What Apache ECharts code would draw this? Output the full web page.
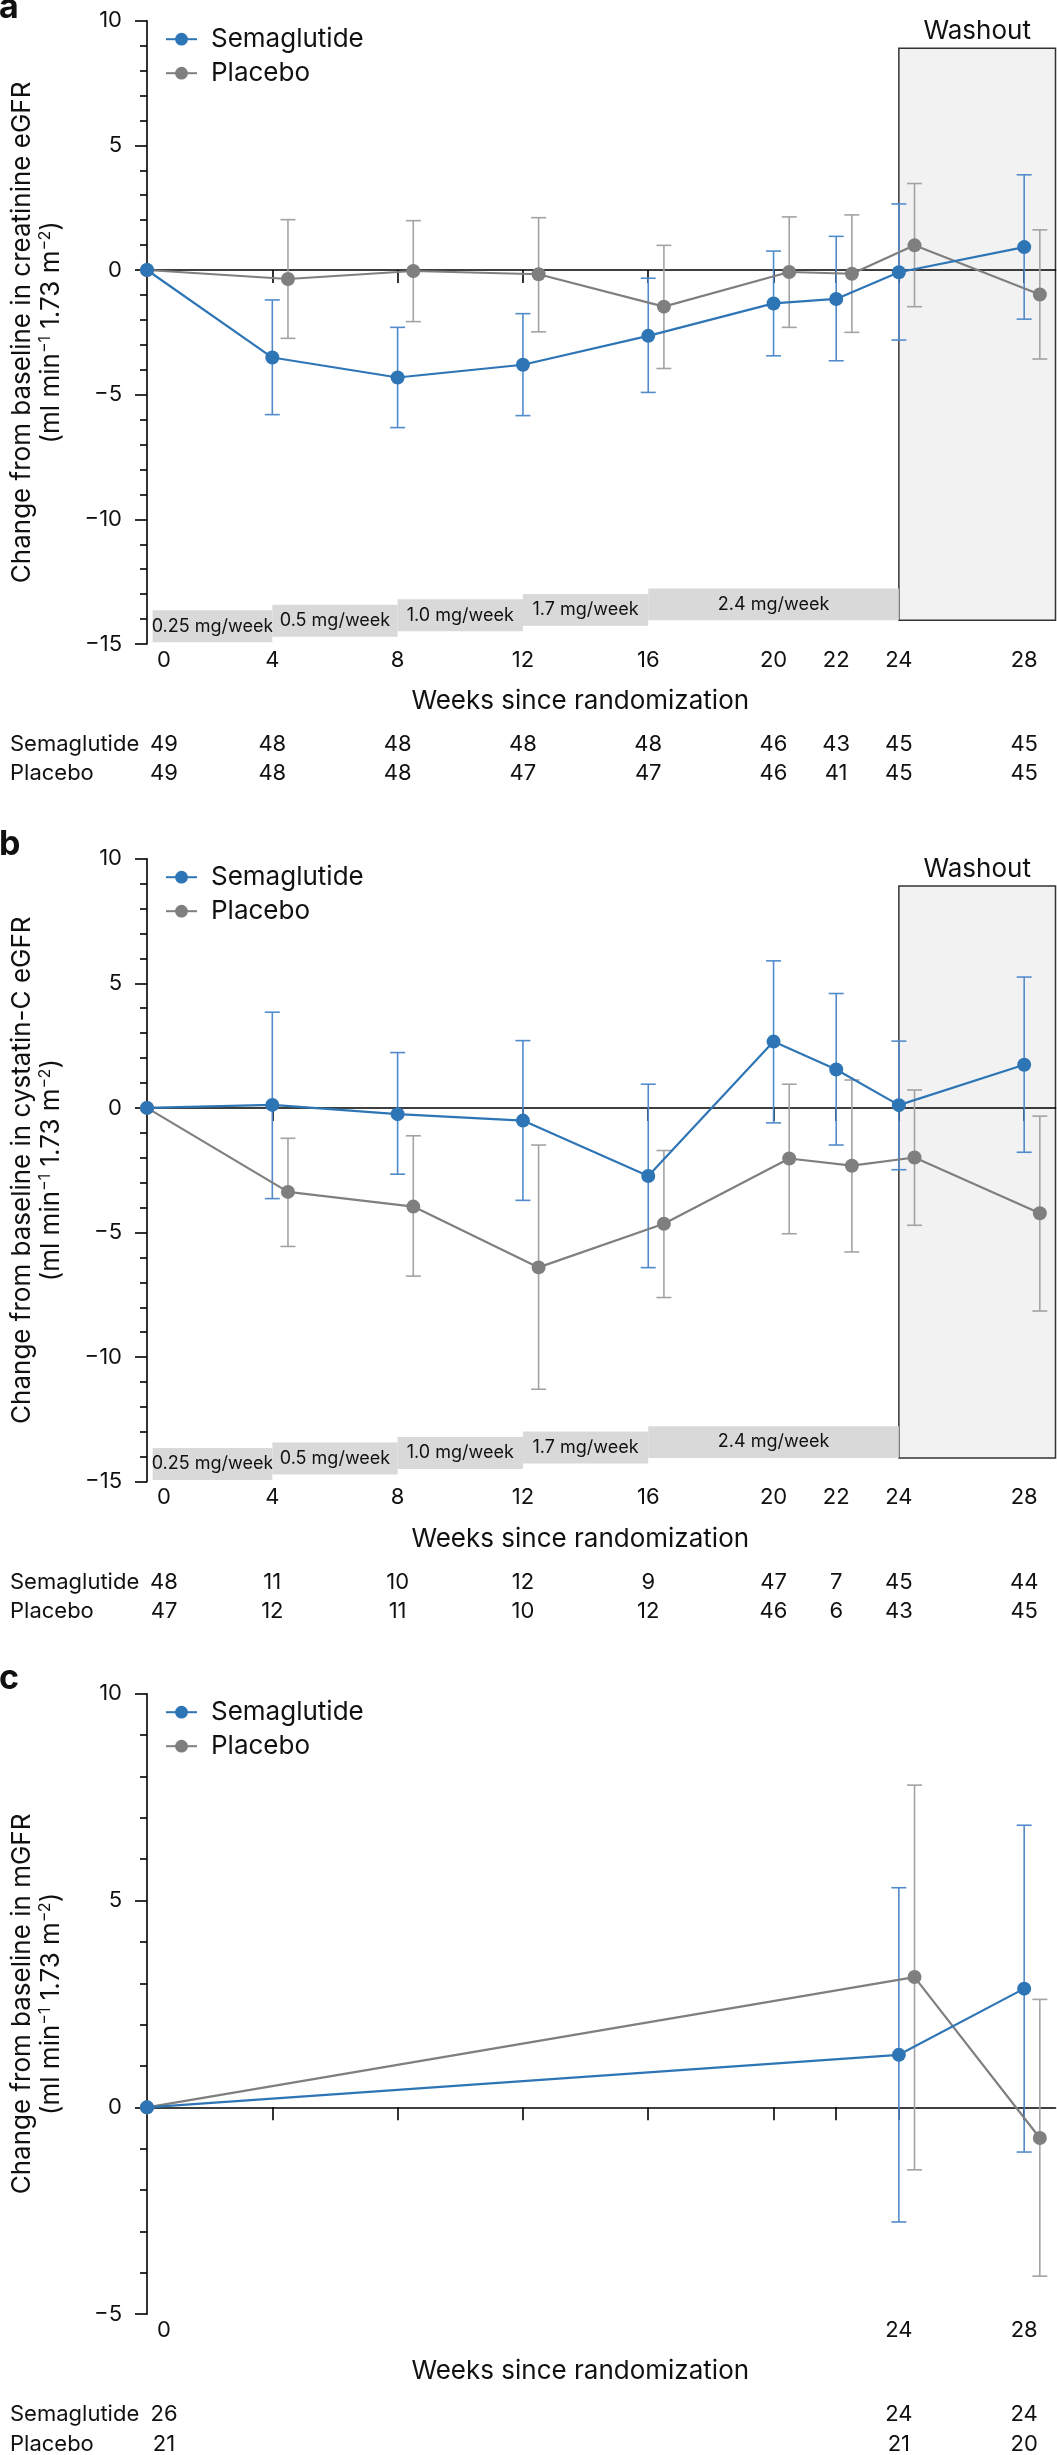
<!DOCTYPE html>
<html>
<head>
<meta charset="utf-8">
<script src="https://cdn.jsdelivr.net/npm/echarts@6/dist/echarts.min.js"></script>
<style>
  html, body { margin: 0; padding: 0; background: #fff; }
  #chart { width: 1057px; height: 2455px; }
</style>
</head>
<body>
<div id="chart"></div>
<script>
// ---------- data ----------
const weekTicks = [4, 8, 12, 16, 20, 22, 24, 28];
const weekLabelsAB = [0, 4, 8, 12, 16, 20, 22, 24, 28];
const weekLabelsC = [0, 24, 28];

const weeksSema = [0, 4, 8, 12, 16, 20, 22, 24, 28];
const weeksPlac = [0, 4.5, 8.5, 12.5, 16.5, 20.5, 22.5, 24.5, 28.5];
const weeksSemaC = [0, 24, 28];
const weeksPlacC = [0, 24.5, 28.5];

// Panel a: creatinine eGFR
const semaA   = [0, -3.51, -4.31, -3.80, -2.64, -1.34, -1.16, -0.09, 0.92];
const semaALo = [null, -5.80, -6.32, -5.84, -4.91, -3.44, -3.64, -2.81, -1.97];
const semaAHi = [null, -1.20, -2.30, -1.75, -0.33, 0.76, 1.35, 2.65, 3.82];
const placA   = [0, -0.36, -0.04, -0.17, -1.47, -0.08, -0.15, 0.99, -0.98];
const placALo = [null, -2.74, -2.07, -2.48, -3.95, -2.30, -2.50, -1.47, -3.57];
const placAHi = [null, 2.02, 1.98, 2.10, 0.99, 2.13, 2.21, 3.47, 1.61];

// Panel b: cystatin-C eGFR
const semaB   = [0, 0.12, -0.25, -0.51, -2.73, 2.66, 1.54, 0.11, 1.73];
const semaBLo = [null, -3.64, -2.66, -3.71, -6.41, -0.60, -1.49, -2.48, -1.78];
const semaBHi = [null, 3.84, 2.22, 2.70, 0.95, 5.90, 4.59, 2.68, 5.25];
const placB   = [0, -3.37, -3.96, -6.40, -4.65, -2.03, -2.32, -1.99, -4.23];
const placBLo = [null, -5.56, -6.75, -11.29, -7.61, -5.05, -5.78, -4.71, -8.15];
const placBHi = [null, -1.22, -1.12, -1.49, -1.71, 0.95, 1.12, 0.72, -0.33];

// Panel c: mGFR
const semaC   = [0, 1.27, 2.87];
const semaCLo = [null, -2.77, -1.08];
const semaCHi = [null, 5.31, 6.82];
const placC   = [0, 3.15, -0.74];
const placCLo = [null, -1.51, -4.08];
const placCHi = [null, 7.79, 2.61];

// Numbers of participants
const nSemaA = [49, 48, 48, 48, 48, 46, 43, 45, 45];
const nPlacA = [49, 48, 48, 47, 47, 46, 41, 45, 45];
const nSemaB = [48, 11, 10, 12, 9, 47, 7, 45, 44];
const nPlacB = [47, 12, 11, 10, 12, 46, 6, 43, 45];
const nSemaC = [26, 24, 24];
const nPlacC = [21, 21, 20];

// Dose escalation steps: [startWeek, endWeek, low, high]
const doseStart = [0.18, 4, 8, 12, 16];
const doseEnd   = [4, 8, 12, 16, 24];
const doseLow   = [-14.93, -14.71, -14.49, -14.27, -14.05];
const doseHigh  = [-13.65, -13.43, -13.21, -12.99, -12.77];
const doseLabels = ['0.25 mg/week', '0.5 mg/week', '1.0 mg/week', '1.7 mg/week', '2.4 mg/week'];

// Washout period box: weeks and y extent
const washoutWeeks = [24, 29];
const washoutY = [-14.05, 8.9];

const yTitles = [
  'Change from baseline in creatinine eGFR\n(ml min{s|−1} 1.73 m{s|−2})',
  'Change from baseline in cystatin-C eGFR\n(ml min{s|−1} 1.73 m{s|−2})',
  'Change from baseline in mGFR\n(ml min{s|−1} 1.73 m{s|−2})'
];
const panelLetters = ['a', 'b', 'c'];

// ---------- style ----------
const FONT = 'Inter, "Noto Sans", sans-serif';
const BLUE = '#2e75b6', BLUE_ERR = '#528bcb';
const GRAY = '#7f7f7f', GRAY_ERR = '#a3a3a3';
const INK = '#111111';
const AXIS = '#000000';

const grids = [
  { top: 20.7, height: 623.3 },
  { top: 858.7, height: 623.0 },
  { top: 1693.7, height: 622.0 }
];
const yRanges = [[-15, 10], [-15, 10], [-5, 10]];

function pairs(xs, ys) { return xs.map((x, i) => [x, ys[i]]); }
function errRows(xs, lo, hi) {
  const out = [];
  xs.forEach((x, i) => { if (lo[i] != null) out.push([x, lo[i], hi[i]]); });
  return out;
}

function errRender(color) {
  return function (params, api) {
    const x = api.value(0), lo = api.value(1), hi = api.value(2);
    const pHi = api.coord([x, hi]);
    const pLo = api.coord([x, lo]);
    const w = 7.5;
    const st = { stroke: color, lineWidth: 1.6 };
    return {
      type: 'group',
      children: [
        { type: 'line', shape: { x1: pHi[0], y1: pHi[1], x2: pLo[0], y2: pLo[1] }, style: st },
        { type: 'line', shape: { x1: pHi[0] - w, y1: pHi[1], x2: pHi[0] + w, y2: pHi[1] }, style: st },
        { type: 'line', shape: { x1: pLo[0] - w, y1: pLo[1], x2: pLo[0] + w, y2: pLo[1] }, style: st }
      ]
    };
  };
}

function doseRender(params, api) {
  const i = params.dataIndex;
  const p1 = api.coord([api.value(0), api.value(3)]);
  const p2 = api.coord([api.value(1), api.value(2)]);
  return {
    type: 'group',
    children: [
      { type: 'rect', shape: { x: p1[0], y: p1[1], width: p2[0] - p1[0], height: p2[1] - p1[1] },
        style: { fill: '#d9d9d9' } },
      { type: 'text', x: (p1[0] + p2[0]) / 2, y: (p1[1] + p2[1]) / 2,
        style: { text: doseLabels[i], fill: INK, font: '18px ' + FONT, align: 'center', verticalAlign: 'middle' } }
    ]
  };
}

function washRender(params, api) {
  const p1 = api.coord([api.value(0), api.value(3)]);
  const p2 = api.coord([api.value(1), api.value(2)]);
  return {
    type: 'group',
    children: [
      { type: 'rect', shape: { x: p1[0], y: p1[1], width: p2[0] - p1[0], height: p2[1] - p1[1] },
        style: { fill: '#f2f2f2', stroke: '#333333', lineWidth: 1.5 } },
      { type: 'text', x: (p1[0] + p2[0]) / 2, y: p1[1] - 4,
        style: { text: 'Washout', fill: INK, font: '26px ' + FONT, align: 'center', verticalAlign: 'bottom' } }
    ]
  };
}

const xAxes = [], yAxes = [], series = [], legends = [], titles = [];

function shiftFirst(v, text) {
  return v === 0 ? '{z|' + text + '}' : text;
}
const richShift = { z: { padding: [0, 0, 0, 34], fontSize: 22, fontFamily: FONT, color: INK } };

for (let p = 0; p < 3; p++) {
  const g = grids[p];
  const labelWeeks = p < 2 ? weekLabelsAB : weekLabelsC;
  const nS = [nSemaA, nSemaB, nSemaC][p];
  const nP = [nPlacA, nPlacB, nPlacC][p];
  const base = xAxes.length;

  // labels axis (bottom of grid)
  xAxes.push({
    gridIndex: p, type: 'value', min: 0, max: 29, position: 'bottom',
    axisLine: { show: false, onZero: false }, axisTick: { show: false }, splitLine: { show: false },
    axisLabel: {
      customValues: labelWeeks, margin: 16, verticalAlign: 'middle',
      fontSize: 22, fontFamily: FONT, color: INK,
      formatter: v => shiftFirst(v, String(v)), rich: richShift
    },
    name: 'Weeks since randomization', nameLocation: 'middle', nameGap: 44,
    nameTextStyle: { fontSize: 26, fontFamily: FONT, color: INK, padding: [0, 42, 0, 0] }
  });
  // zero line axis
  xAxes.push({
    gridIndex: p, type: 'value', min: 0, max: 29, position: 'bottom', z: 2,
    axisLine: { show: true, onZero: true, lineStyle: { color: AXIS, width: 1.6 } },
    axisTick: { show: true, customValues: weekTicks, length: 13, lineStyle: { color: AXIS, width: 1.6 } },
    axisLabel: { show: false }, splitLine: { show: false }
  });
  // N rows
  [[nS, 'Semaglutide', 100.3], [nP, 'Placebo', 129.8]].forEach(([arr, nm, off]) => {
    xAxes.push({
      gridIndex: p, type: 'value', min: 0, max: 29, position: 'bottom', offset: off,
      axisLine: { show: false, onZero: false }, axisTick: { show: false }, splitLine: { show: false },
      axisLabel: {
        customValues: labelWeeks, margin: 0, verticalAlign: 'middle',
        fontSize: 22, fontFamily: FONT, color: INK,
        formatter: v => shiftFirst(v, String(arr[labelWeeks.indexOf(v)])), rich: richShift
      },
      name: nm, nameLocation: 'start', nameGap: 137,
      nameTextStyle: { fontSize: 22, fontFamily: FONT, color: INK, align: 'left', verticalAlign: 'middle' }
    });
  });

  yAxes.push({
    gridIndex: p, type: 'value', min: yRanges[p][0], max: yRanges[p][1], interval: 5, z: 2,
    axisLine: { show: true, lineStyle: { color: AXIS, width: 1.6 } },
    axisTick: { show: true, length: 12, lineStyle: { color: AXIS, width: 1.6 } },
    minorTick: { show: true, splitNumber: 5, length: 7, lineStyle: { color: AXIS, width: 1.6 } },
    splitLine: { show: false }, minorSplitLine: { show: false },
    axisLabel: { fontSize: 22, fontFamily: FONT, color: INK, margin: 25,
      formatter: v => (v < 0 ? '−' + Math.abs(v) : String(v)) },
    name: yTitles[p], nameLocation: 'middle', nameRotate: 90, nameGap: 81,
    nameTextStyle: {
      fontSize: 26, lineHeight: 29, fontFamily: FONT, color: INK, align: 'center',
      rich: { s: { fontSize: 16, lineHeight: 16, verticalAlign: 'top', fontFamily: FONT, color: INK } }
    }
  });

  const xi = base + 1;
  const sS = [semaA, semaB, semaC][p], sLo = [semaALo, semaBLo, semaCLo][p], sHi = [semaAHi, semaBHi, semaCHi][p];
  const pS = [placA, placB, placC][p], pLo = [placALo, placBLo, placCLo][p], pHi = [placAHi, placBHi, placCHi][p];
  const wS = p < 2 ? weeksSema : weeksSemaC;
  const wP = p < 2 ? weeksPlac : weeksPlacC;

  if (p < 2) {
    series.push({
      type: 'custom', xAxisIndex: xi, yAxisIndex: p, z: 1, clip: false, silent: true,
      renderItem: washRender,
      data: [[washoutWeeks[0], washoutWeeks[1], washoutY[0], washoutY[1]]]
    });
    series.push({
      type: 'custom', xAxisIndex: xi, yAxisIndex: p, z: 1, clip: false, silent: true,
      renderItem: doseRender,
      data: doseStart.map((s, i) => [s, doseEnd[i], doseLow[i], doseHigh[i]])
    });
  }
  series.push({
    type: 'custom', xAxisIndex: xi, yAxisIndex: p, z: 3, clip: false, silent: true,
    renderItem: errRender(GRAY_ERR), data: errRows(wP, pLo, pHi)
  });
  series.push({
    type: 'custom', xAxisIndex: xi, yAxisIndex: p, z: 3, clip: false, silent: true,
    renderItem: errRender(BLUE_ERR), data: errRows(wS, sLo, sHi)
  });
  series.push({
    name: 'Placebo', type: 'line', xAxisIndex: xi, yAxisIndex: p, z: 4,
    data: pairs(wP, pS), symbol: 'circle', symbolSize: 14, showSymbol: true,
    lineStyle: { color: GRAY, width: 2.2 }, itemStyle: { color: GRAY }, clip: false, animation: false
  });
  series.push({
    name: 'Semaglutide', type: 'line', xAxisIndex: xi, yAxisIndex: p, z: 4,
    data: pairs(wS, sS), symbol: 'circle', symbolSize: 14, showSymbol: true,
    lineStyle: { color: BLUE, width: 2.2 }, itemStyle: { color: BLUE }, clip: false, animation: false
  });

  legends.push({
    data: ['Semaglutide', 'Placebo'], orient: 'vertical', left: 160, top: g.top + 0.5,
    itemWidth: 31, itemHeight: 16, itemGap: 8, selectedMode: false,
    textStyle: { fontSize: 26, fontFamily: FONT, color: INK, padding: [0, 0, 0, 9] }
  });
  titles.push({
    text: panelLetters[p], left: -1, top: [ -9, 828, 1662 ][p], padding: 0,
    textStyle: { fontSize: 34, fontWeight: 'bold', fontFamily: FONT, color: INK }
  });
}

const chart = echarts.init(document.getElementById('chart'), null, { renderer: 'canvas' });
chart.setOption({
  animation: false,
  backgroundColor: '#ffffff',
  title: titles,
  legend: legends,
  grid: grids.map(g => ({ left: 137, right: 1.5, top: g.top, height: g.height, containLabel: false })),
  xAxis: xAxes,
  yAxis: yAxes,
  series: series
});
</script>
</body>
</html>
